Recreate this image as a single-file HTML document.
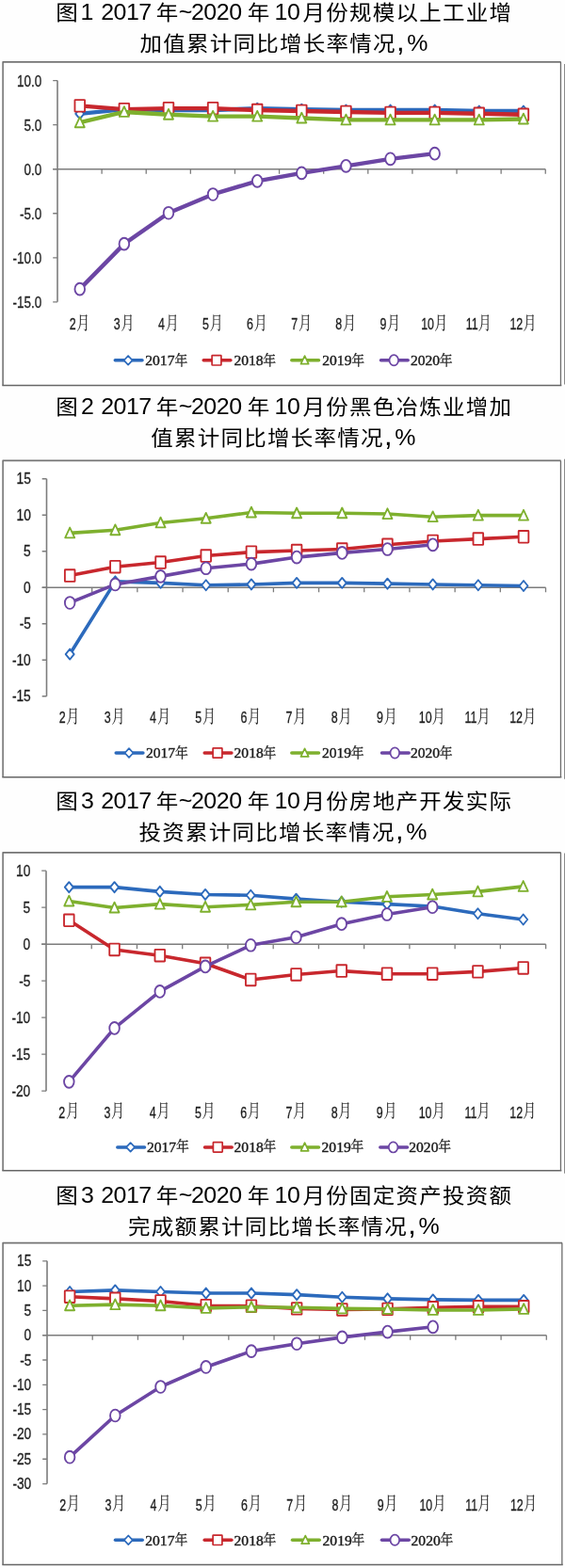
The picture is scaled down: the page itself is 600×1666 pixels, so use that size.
<!DOCTYPE html>
<html lang="zh-CN">
<head>
<meta charset="utf-8">
<title>2017年~2020年10月份累计同比增长率情况</title>
<style>
html,body{margin:0;padding:0;background:#fefefe;}
body{width:600px;height:1666px;overflow:hidden;}
svg{display:block;filter:blur(0.5px);}
text{fill:#1c1c1c;white-space:pre;stroke:#1c1c1c;stroke-width:0.35px;}
.tc{stroke:none;fill:#000;}
.m{stroke-width:0.1px;}
.y{stroke-width:0.3px;}
.n{stroke-width:0.3px;}
.s{stroke-width:0.42px;}
.td{font-family:"Liberation Sans",sans-serif;font-size:24.95px;}
.tk{font-family:"Liberation Sans",sans-serif;font-size:31px;}
.tc{font-family:"Liberation Sans","Noto Sans CJK SC",sans-serif;font-size:23.5px;}
.n{font-family:"Liberation Sans",sans-serif;font-size:16.4px;}
.x{font-family:"Liberation Sans",sans-serif;font-size:16.7px;stroke-width:0.3px;}
.s{font-family:"Liberation Serif",serif;font-size:15.3px;}
.m{font-family:"Liberation Serif","Noto Serif CJK SC",serif;font-size:19.2px;}
.y{font-family:"Liberation Serif","Noto Serif CJK SC",serif;font-size:14.7px;}
</style>
</head>
<body>
<svg width="600" height="1666" viewBox="0 0 600 1666" role="img" aria-label="2017年~2020年10月份累计同比增长率情况">
<rect width="600" height="1666" fill="#fefefe"/>
<g>
<text class="tc" transform="translate(0 20.5) scale(1 0.93)"><tspan x="59.3">图</tspan><tspan class="td" x="85.54">1</tspan> <tspan class="td" x="107.16" letter-spacing="-0.47">2017</tspan><tspan x="165.75">年</tspan><tspan class="td" x="189.72">~</tspan><tspan class="td" x="202.96" letter-spacing="-0.47">2020</tspan><tspan x="262.75">年</tspan><tspan class="td" x="291.52" letter-spacing="-0.47">10</tspan><tspan x="321.45" letter-spacing="1.25">月份规模以上工业增</tspan></text>
<text class="tc" transform="translate(0 53.6) scale(1 0.93)"><tspan x="148.5" letter-spacing="1.25">加值累计同比增长率情况</tspan><tspan class="tk" x="420.89">,</tspan><tspan class="td" x="432.19">%</tspan></text>
<rect x="3.1" y="65.85" width="592.5" height="343.65" fill="#fff"/>
<path d="M3.1 409.5V65.85H595.6" fill="none" stroke="#747474" stroke-width="1.6" stroke-linejoin="round"/>
<path d="M3.1 409.5H595.6" fill="none" stroke="#666" stroke-width="1.5" stroke-linecap="square"/>
<path d="M595.45 65.85V409.5" fill="none" stroke="#6c6c6c" stroke-width="1.3"/>
<line x1="599.7" y1="68" x2="599.7" y2="408.4" stroke="#8c8c8c" stroke-width="1.4"/>
<path d="M61 85.6V320.85" stroke="#7c7c7c" stroke-width="1.6" fill="none"/>
<path d="M56.2 85.6H61M56.2 132.65H61M56.2 179.7H61M56.2 226.75H61M56.2 273.8H61M56.2 320.85H61" stroke="#7c7c7c" stroke-width="1.3" fill="none"/>
<path d="M56.2 179.7H579.25" stroke="#7c7c7c" stroke-width="1.6" fill="none"/>
<path d="M108.11 179.7v5.1M155.23 179.7v5.1M202.34 179.7v5.1M249.45 179.7v5.1M296.57 179.7v5.1M343.68 179.7v5.1M390.8 179.7v5.1M437.91 179.7v5.1M485.02 179.7v5.1M532.14 179.7v5.1M579.25 179.7v5.1" stroke="#7c7c7c" stroke-width="1.3" fill="none"/>
<text class="n" x="18.01" y="91.7" textLength="26.23" lengthAdjust="spacingAndGlyphs">10.0</text>
<text class="n" x="25.41" y="138.75" textLength="18.74" lengthAdjust="spacingAndGlyphs">5.0</text>
<text class="n" x="25.41" y="185.8" textLength="18.74" lengthAdjust="spacingAndGlyphs">0.0</text>
<text class="n" x="21.1" y="232.85" textLength="23.22" lengthAdjust="spacingAndGlyphs">-5.0</text>
<text class="n" x="13.49" y="279.9" textLength="30.71" lengthAdjust="spacingAndGlyphs">-10.0</text>
<text class="n" x="13.49" y="326.95" textLength="30.71" lengthAdjust="spacingAndGlyphs">-15.0</text>
<text class="x" y="350.2"><tspan x="73.65" textLength="6.91" lengthAdjust="spacingAndGlyphs">2</tspan><tspan class="m" x="81.57" dy="-0.7" textLength="13.68" lengthAdjust="spacingAndGlyphs">月</tspan></text>
<text class="x" y="350.2"><tspan x="120.77" textLength="6.91" lengthAdjust="spacingAndGlyphs">3</tspan><tspan class="m" x="128.69" dy="-0.7" textLength="13.68" lengthAdjust="spacingAndGlyphs">月</tspan></text>
<text class="x" y="350.2"><tspan x="167.88" textLength="6.91" lengthAdjust="spacingAndGlyphs">4</tspan><tspan class="m" x="175.99" dy="-0.7" textLength="13.68" lengthAdjust="spacingAndGlyphs">月</tspan></text>
<text class="x" y="350.2"><tspan x="214.99" textLength="6.91" lengthAdjust="spacingAndGlyphs">5</tspan><tspan class="m" x="222.91" dy="-0.7" textLength="13.68" lengthAdjust="spacingAndGlyphs">月</tspan></text>
<text class="x" y="350.2"><tspan x="262.11" textLength="6.91" lengthAdjust="spacingAndGlyphs">6</tspan><tspan class="m" x="270.03" dy="-0.7" textLength="13.68" lengthAdjust="spacingAndGlyphs">月</tspan></text>
<text class="x" y="350.2"><tspan x="309.22" textLength="6.91" lengthAdjust="spacingAndGlyphs">7</tspan><tspan class="m" x="317.14" dy="-0.7" textLength="13.68" lengthAdjust="spacingAndGlyphs">月</tspan></text>
<text class="x" y="350.2"><tspan x="356.33" textLength="6.91" lengthAdjust="spacingAndGlyphs">8</tspan><tspan class="m" x="364.25" dy="-0.7" textLength="13.68" lengthAdjust="spacingAndGlyphs">月</tspan></text>
<text class="x" y="350.2"><tspan x="403.45" textLength="6.91" lengthAdjust="spacingAndGlyphs">9</tspan><tspan class="m" x="411.37" dy="-0.7" textLength="13.68" lengthAdjust="spacingAndGlyphs">月</tspan></text>
<text class="x" y="350.2"><tspan x="447.14" textLength="13.83" lengthAdjust="spacingAndGlyphs">10</tspan><tspan class="m" x="461.53" dy="-0.7" textLength="13.68" lengthAdjust="spacingAndGlyphs">月</tspan></text>
<text class="x" y="350.2"><tspan x="494.81" textLength="12.91" lengthAdjust="spacingAndGlyphs">11</tspan><tspan class="m" x="508.09" dy="-0.7" textLength="13.68" lengthAdjust="spacingAndGlyphs">月</tspan></text>
<text class="x" y="350.2"><tspan x="541.46" textLength="13.83" lengthAdjust="spacingAndGlyphs">12</tspan><tspan class="m" x="555.67" dy="-0.7" textLength="13.68" lengthAdjust="spacingAndGlyphs">月</tspan></text>
<polyline points="84.76,120.82 131.87,116.11 178.98,117.05 226.1,117.05 273.21,115.17 320.32,116.11 367.44,117.05 414.55,117.05 461.67,117.05 508.78,117.99 555.89,117.99" fill="none" stroke="#2C6ABC" stroke-width="4.4" stroke-linejoin="round" stroke-linecap="round"/>
<path d="M84.76 115.32L89.26 120.82L84.76 126.32L80.26 120.82Z" fill="#fff" stroke="#2C6ABC" stroke-width="1.85" stroke-linejoin="round"/>
<path d="M131.87 110.61L136.37 116.11L131.87 121.61L127.37 116.11Z" fill="#fff" stroke="#2C6ABC" stroke-width="1.85" stroke-linejoin="round"/>
<path d="M178.98 111.55L183.48 117.05L178.98 122.55L174.48 117.05Z" fill="#fff" stroke="#2C6ABC" stroke-width="1.85" stroke-linejoin="round"/>
<path d="M226.1 111.55L230.6 117.05L226.1 122.55L221.6 117.05Z" fill="#fff" stroke="#2C6ABC" stroke-width="1.85" stroke-linejoin="round"/>
<path d="M273.21 109.67L277.71 115.17L273.21 120.67L268.71 115.17Z" fill="#fff" stroke="#2C6ABC" stroke-width="1.85" stroke-linejoin="round"/>
<path d="M320.32 110.61L324.82 116.11L320.32 121.61L315.82 116.11Z" fill="#fff" stroke="#2C6ABC" stroke-width="1.85" stroke-linejoin="round"/>
<path d="M367.44 111.55L371.94 117.05L367.44 122.55L362.94 117.05Z" fill="#fff" stroke="#2C6ABC" stroke-width="1.85" stroke-linejoin="round"/>
<path d="M414.55 111.55L419.05 117.05L414.55 122.55L410.05 117.05Z" fill="#fff" stroke="#2C6ABC" stroke-width="1.85" stroke-linejoin="round"/>
<path d="M461.67 111.55L466.17 117.05L461.67 122.55L457.17 117.05Z" fill="#fff" stroke="#2C6ABC" stroke-width="1.85" stroke-linejoin="round"/>
<path d="M508.78 112.49L513.28 117.99L508.78 123.49L504.28 117.99Z" fill="#fff" stroke="#2C6ABC" stroke-width="1.85" stroke-linejoin="round"/>
<path d="M555.89 112.49L560.39 117.99L555.89 123.49L551.39 117.99Z" fill="#fff" stroke="#2C6ABC" stroke-width="1.85" stroke-linejoin="round"/>
<polyline points="84.76,112.35 131.87,116.11 178.98,115.17 226.1,115.17 273.21,117.05 320.32,117.99 367.44,118.94 414.55,119.88 461.67,119.88 508.78,120.82 555.89,121.76" fill="none" stroke="#C8272D" stroke-width="4.4" stroke-linejoin="round" stroke-linecap="round"/>
<rect x="79.46" y="106.05" width="10.6" height="12.6" rx="0.5" fill="#fff" stroke="#C8272D" stroke-width="1.85"/>
<rect x="126.57" y="109.81" width="10.6" height="12.6" rx="0.5" fill="#fff" stroke="#C8272D" stroke-width="1.85"/>
<rect x="173.68" y="108.87" width="10.6" height="12.6" rx="0.5" fill="#fff" stroke="#C8272D" stroke-width="1.85"/>
<rect x="220.8" y="108.87" width="10.6" height="12.6" rx="0.5" fill="#fff" stroke="#C8272D" stroke-width="1.85"/>
<rect x="267.91" y="110.75" width="10.6" height="12.6" rx="0.5" fill="#fff" stroke="#C8272D" stroke-width="1.85"/>
<rect x="315.02" y="111.69" width="10.6" height="12.6" rx="0.5" fill="#fff" stroke="#C8272D" stroke-width="1.85"/>
<rect x="362.14" y="112.64" width="10.6" height="12.6" rx="0.5" fill="#fff" stroke="#C8272D" stroke-width="1.85"/>
<rect x="409.25" y="113.58" width="10.6" height="12.6" rx="0.5" fill="#fff" stroke="#C8272D" stroke-width="1.85"/>
<rect x="456.37" y="113.58" width="10.6" height="12.6" rx="0.5" fill="#fff" stroke="#C8272D" stroke-width="1.85"/>
<rect x="503.48" y="114.52" width="10.6" height="12.6" rx="0.5" fill="#fff" stroke="#C8272D" stroke-width="1.85"/>
<rect x="550.59" y="115.46" width="10.6" height="12.6" rx="0.5" fill="#fff" stroke="#C8272D" stroke-width="1.85"/>
<polyline points="84.76,130.23 131.87,118.94 178.98,121.76 226.1,123.64 273.21,123.64 320.32,125.52 367.44,127.4 414.55,127.4 461.67,127.4 508.78,127.4 555.89,126.46" fill="none" stroke="#7EB02E" stroke-width="4.4" stroke-linejoin="round" stroke-linecap="round"/>
<path d="M84.76 124.43L89.76 135.23L79.76 135.23Z" fill="#fff" stroke="#7EB02E" stroke-width="1.85" stroke-linejoin="round"/>
<path d="M131.87 113.13L136.87 123.94L126.87 123.94Z" fill="#fff" stroke="#7EB02E" stroke-width="1.85" stroke-linejoin="round"/>
<path d="M178.98 115.96L183.98 126.76L173.98 126.76Z" fill="#fff" stroke="#7EB02E" stroke-width="1.85" stroke-linejoin="round"/>
<path d="M226.1 117.84L231.1 128.64L221.1 128.64Z" fill="#fff" stroke="#7EB02E" stroke-width="1.85" stroke-linejoin="round"/>
<path d="M273.21 117.84L278.21 128.64L268.21 128.64Z" fill="#fff" stroke="#7EB02E" stroke-width="1.85" stroke-linejoin="round"/>
<path d="M320.32 119.72L325.32 130.52L315.32 130.52Z" fill="#fff" stroke="#7EB02E" stroke-width="1.85" stroke-linejoin="round"/>
<path d="M367.44 121.6L372.44 132.4L362.44 132.4Z" fill="#fff" stroke="#7EB02E" stroke-width="1.85" stroke-linejoin="round"/>
<path d="M414.55 121.6L419.55 132.4L409.55 132.4Z" fill="#fff" stroke="#7EB02E" stroke-width="1.85" stroke-linejoin="round"/>
<path d="M461.67 121.6L466.67 132.4L456.67 132.4Z" fill="#fff" stroke="#7EB02E" stroke-width="1.85" stroke-linejoin="round"/>
<path d="M508.78 121.6L513.78 132.4L503.78 132.4Z" fill="#fff" stroke="#7EB02E" stroke-width="1.85" stroke-linejoin="round"/>
<path d="M555.89 120.66L560.89 131.46L550.89 131.46Z" fill="#fff" stroke="#7EB02E" stroke-width="1.85" stroke-linejoin="round"/>
<polyline points="84.76,307.13 131.87,259.14 178.98,226.21 226.1,206.45 273.21,192.33 320.32,183.86 367.44,176.34 414.55,168.81 461.67,163.16" fill="none" stroke="#6C46A4" stroke-width="4.4" stroke-linejoin="round" stroke-linecap="round"/>
<ellipse cx="84.76" cy="307.13" rx="5.3" ry="6.4" fill="#fff" stroke="#6C46A4" stroke-width="1.85"/>
<ellipse cx="131.87" cy="259.14" rx="5.3" ry="6.4" fill="#fff" stroke="#6C46A4" stroke-width="1.85"/>
<ellipse cx="178.98" cy="226.21" rx="5.3" ry="6.4" fill="#fff" stroke="#6C46A4" stroke-width="1.85"/>
<ellipse cx="226.1" cy="206.45" rx="5.3" ry="6.4" fill="#fff" stroke="#6C46A4" stroke-width="1.85"/>
<ellipse cx="273.21" cy="192.33" rx="5.3" ry="6.4" fill="#fff" stroke="#6C46A4" stroke-width="1.85"/>
<ellipse cx="320.32" cy="183.86" rx="5.3" ry="6.4" fill="#fff" stroke="#6C46A4" stroke-width="1.85"/>
<ellipse cx="367.44" cy="176.34" rx="5.3" ry="6.4" fill="#fff" stroke="#6C46A4" stroke-width="1.85"/>
<ellipse cx="414.55" cy="168.81" rx="5.3" ry="6.4" fill="#fff" stroke="#6C46A4" stroke-width="1.85"/>
<ellipse cx="461.67" cy="163.16" rx="5.3" ry="6.4" fill="#fff" stroke="#6C46A4" stroke-width="1.85"/>
<line x1="122.3" y1="382.8" x2="151" y2="382.8" stroke="#2C6ABC" stroke-width="3.5" stroke-linecap="round"/>
<path d="M136.1 378L140.6 382.8L136.1 387.6L131.6 382.8Z" fill="#fff" stroke="#2C6ABC" stroke-width="1.7" stroke-linejoin="round"/>
<text class="s" y="388.4"><tspan x="154.24" textLength="31.21" lengthAdjust="spacingAndGlyphs">2017</tspan><tspan class="y" x="185.38" dy="-0.5" textLength="13.82" lengthAdjust="spacingAndGlyphs">年</tspan></text>
<line x1="216.2" y1="382.8" x2="244.9" y2="382.8" stroke="#C8272D" stroke-width="3.5" stroke-linecap="round"/>
<rect x="225.1" y="377.6" width="9.8" height="10.4" rx="0.5" fill="#fff" stroke="#C8272D" stroke-width="1.7"/>
<text class="s" y="388.4"><tspan x="248.44" textLength="31.21" lengthAdjust="spacingAndGlyphs">2018</tspan><tspan class="y" x="279.33" dy="-0.5" textLength="13.82" lengthAdjust="spacingAndGlyphs">年</tspan></text>
<line x1="309.8" y1="382.8" x2="338.5" y2="382.8" stroke="#7EB02E" stroke-width="3.5" stroke-linecap="round"/>
<path d="M323.6 378.1L327.7 386.7L319.5 386.7Z" fill="#fff" stroke="#7EB02E" stroke-width="1.7" stroke-linejoin="round"/>
<text class="s" y="388.4"><tspan x="342.24" textLength="31.21" lengthAdjust="spacingAndGlyphs">2019</tspan><tspan class="y" x="373.13" dy="-0.5" textLength="13.82" lengthAdjust="spacingAndGlyphs">年</tspan></text>
<line x1="404.5" y1="382.8" x2="433.2" y2="382.8" stroke="#6C46A4" stroke-width="3.5" stroke-linecap="round"/>
<ellipse cx="418.3" cy="382.8" rx="4.8" ry="5.6" fill="#fff" stroke="#6C46A4" stroke-width="1.7"/>
<text class="s" y="388.4"><tspan x="435.94" textLength="31.21" lengthAdjust="spacingAndGlyphs">2020</tspan><tspan class="y" x="466.83" dy="-0.5" textLength="13.82" lengthAdjust="spacingAndGlyphs">年</tspan></text>
</g>
<g>
<text class="tc" transform="translate(0 439.5) scale(1 0.93)"><tspan x="59.3">图</tspan><tspan class="td" x="85.91">2</tspan> <tspan class="td" x="107.16" letter-spacing="-0.47">2017</tspan><tspan x="165.75">年</tspan><tspan class="td" x="189.72">~</tspan><tspan class="td" x="202.96" letter-spacing="-0.47">2020</tspan><tspan x="262.75">年</tspan><tspan class="td" x="291.52" letter-spacing="-0.47">10</tspan><tspan x="321.45" letter-spacing="1.25">月份黑色冶炼业增加</tspan></text>
<text class="tc" transform="translate(0 472.7) scale(1 0.93)"><tspan x="160.25" letter-spacing="1.25">值累计同比增长率情况</tspan><tspan class="tk" x="407.89">,</tspan><tspan class="td" x="419.19">%</tspan></text>
<rect x="3.1" y="489.4" width="592.5" height="336.4" fill="#fff"/>
<path d="M3.1 825.8V489.4H595.6" fill="none" stroke="#747474" stroke-width="1.6" stroke-linejoin="round"/>
<path d="M3.1 825.8H595.6" fill="none" stroke="#666" stroke-width="1.5" stroke-linecap="square"/>
<path d="M595.45 489.4V825.8" fill="none" stroke="#6c6c6c" stroke-width="1.3"/>
<line x1="599.7" y1="487.7" x2="599.7" y2="827.7" stroke="#8c8c8c" stroke-width="1.4"/>
<path d="M49.5 508.75V739.75" stroke="#7c7c7c" stroke-width="1.6" fill="none"/>
<path d="M44.7 508.75H49.5M44.7 547.25H49.5M44.7 585.75H49.5M44.7 624.25H49.5M44.7 662.75H49.5M44.7 701.25H49.5M44.7 739.75H49.5" stroke="#7c7c7c" stroke-width="1.3" fill="none"/>
<path d="M44.7 624.25H579.5" stroke="#7c7c7c" stroke-width="1.6" fill="none"/>
<path d="M97.68 624.25v5.1M145.86 624.25v5.1M194.05 624.25v5.1M242.23 624.25v5.1M290.41 624.25v5.1M338.59 624.25v5.1M386.77 624.25v5.1M434.95 624.25v5.1M483.14 624.25v5.1M531.32 624.25v5.1M579.5 624.25v5.1" stroke="#7c7c7c" stroke-width="1.3" fill="none"/>
<text class="n" x="17.5" y="514.25" textLength="15.32" lengthAdjust="spacingAndGlyphs">15</text>
<text class="n" x="17.5" y="552.75" textLength="15.32" lengthAdjust="spacingAndGlyphs">10</text>
<text class="n" x="25.06" y="591.25" textLength="7.67" lengthAdjust="spacingAndGlyphs">5</text>
<text class="n" x="25.06" y="629.75" textLength="7.67" lengthAdjust="spacingAndGlyphs">0</text>
<text class="n" x="20.65" y="668.25" textLength="12.25" lengthAdjust="spacingAndGlyphs">-5</text>
<text class="n" x="12.88" y="706.75" textLength="19.91" lengthAdjust="spacingAndGlyphs">-10</text>
<text class="n" x="12.88" y="745.25" textLength="19.91" lengthAdjust="spacingAndGlyphs">-15</text>
<text class="x" y="768.2"><tspan x="62.69" textLength="6.91" lengthAdjust="spacingAndGlyphs">2</tspan><tspan class="m" x="70.61" dy="-0.7" textLength="13.68" lengthAdjust="spacingAndGlyphs">月</tspan></text>
<text class="x" y="768.2"><tspan x="110.87" textLength="6.91" lengthAdjust="spacingAndGlyphs">3</tspan><tspan class="m" x="118.79" dy="-0.7" textLength="13.68" lengthAdjust="spacingAndGlyphs">月</tspan></text>
<text class="x" y="768.2"><tspan x="159.05" textLength="6.91" lengthAdjust="spacingAndGlyphs">4</tspan><tspan class="m" x="167.16" dy="-0.7" textLength="13.68" lengthAdjust="spacingAndGlyphs">月</tspan></text>
<text class="x" y="768.2"><tspan x="207.23" textLength="6.91" lengthAdjust="spacingAndGlyphs">5</tspan><tspan class="m" x="215.15" dy="-0.7" textLength="13.68" lengthAdjust="spacingAndGlyphs">月</tspan></text>
<text class="x" y="768.2"><tspan x="255.41" textLength="6.91" lengthAdjust="spacingAndGlyphs">6</tspan><tspan class="m" x="263.33" dy="-0.7" textLength="13.68" lengthAdjust="spacingAndGlyphs">月</tspan></text>
<text class="x" y="768.2"><tspan x="303.6" textLength="6.91" lengthAdjust="spacingAndGlyphs">7</tspan><tspan class="m" x="311.52" dy="-0.7" textLength="13.68" lengthAdjust="spacingAndGlyphs">月</tspan></text>
<text class="x" y="768.2"><tspan x="351.78" textLength="6.91" lengthAdjust="spacingAndGlyphs">8</tspan><tspan class="m" x="359.7" dy="-0.7" textLength="13.68" lengthAdjust="spacingAndGlyphs">月</tspan></text>
<text class="x" y="768.2"><tspan x="399.96" textLength="6.91" lengthAdjust="spacingAndGlyphs">9</tspan><tspan class="m" x="407.88" dy="-0.7" textLength="13.68" lengthAdjust="spacingAndGlyphs">月</tspan></text>
<text class="x" y="768.2"><tspan x="444.72" textLength="13.83" lengthAdjust="spacingAndGlyphs">10</tspan><tspan class="m" x="459.11" dy="-0.7" textLength="13.68" lengthAdjust="spacingAndGlyphs">月</tspan></text>
<text class="x" y="768.2"><tspan x="493.46" textLength="12.91" lengthAdjust="spacingAndGlyphs">11</tspan><tspan class="m" x="506.74" dy="-0.7" textLength="13.68" lengthAdjust="spacingAndGlyphs">月</tspan></text>
<text class="x" y="768.2"><tspan x="541.17" textLength="13.83" lengthAdjust="spacingAndGlyphs">12</tspan><tspan class="m" x="555.38" dy="-0.7" textLength="13.68" lengthAdjust="spacingAndGlyphs">月</tspan></text>
<polyline points="74.19,695.05 122.37,617.83 170.55,619.39 218.74,621.73 266.92,620.95 315.1,619.39 363.28,619.39 411.46,620.17 459.65,620.95 507.83,621.73 556.01,622.51" fill="none" stroke="#2C6ABC" stroke-width="3.6" stroke-linejoin="round" stroke-linecap="round"/>
<path d="M74.19 689.55L78.69 695.05L74.19 700.55L69.69 695.05Z" fill="#fff" stroke="#2C6ABC" stroke-width="1.85" stroke-linejoin="round"/>
<path d="M122.37 612.33L126.87 617.83L122.37 623.33L117.87 617.83Z" fill="#fff" stroke="#2C6ABC" stroke-width="1.85" stroke-linejoin="round"/>
<path d="M170.55 613.89L175.05 619.39L170.55 624.89L166.05 619.39Z" fill="#fff" stroke="#2C6ABC" stroke-width="1.85" stroke-linejoin="round"/>
<path d="M218.74 616.23L223.24 621.73L218.74 627.23L214.24 621.73Z" fill="#fff" stroke="#2C6ABC" stroke-width="1.85" stroke-linejoin="round"/>
<path d="M266.92 615.45L271.42 620.95L266.92 626.45L262.42 620.95Z" fill="#fff" stroke="#2C6ABC" stroke-width="1.85" stroke-linejoin="round"/>
<path d="M315.1 613.89L319.6 619.39L315.1 624.89L310.6 619.39Z" fill="#fff" stroke="#2C6ABC" stroke-width="1.85" stroke-linejoin="round"/>
<path d="M363.28 613.89L367.78 619.39L363.28 624.89L358.78 619.39Z" fill="#fff" stroke="#2C6ABC" stroke-width="1.85" stroke-linejoin="round"/>
<path d="M411.46 614.67L415.96 620.17L411.46 625.67L406.96 620.17Z" fill="#fff" stroke="#2C6ABC" stroke-width="1.85" stroke-linejoin="round"/>
<path d="M459.65 615.45L464.15 620.95L459.65 626.45L455.15 620.95Z" fill="#fff" stroke="#2C6ABC" stroke-width="1.85" stroke-linejoin="round"/>
<path d="M507.83 616.23L512.33 621.73L507.83 627.23L503.33 621.73Z" fill="#fff" stroke="#2C6ABC" stroke-width="1.85" stroke-linejoin="round"/>
<path d="M556.01 617.01L560.51 622.51L556.01 628.01L551.51 622.51Z" fill="#fff" stroke="#2C6ABC" stroke-width="1.85" stroke-linejoin="round"/>
<polyline points="74.19,611.59 122.37,602.23 170.55,597.55 218.74,590.53 266.92,586.63 315.1,585.07 363.28,583.51 411.46,578.83 459.65,574.93 507.83,572.59 556.01,570.25" fill="none" stroke="#C8272D" stroke-width="3.6" stroke-linejoin="round" stroke-linecap="round"/>
<rect x="68.89" y="605.29" width="10.6" height="12.6" rx="0.5" fill="#fff" stroke="#C8272D" stroke-width="1.85"/>
<rect x="117.07" y="595.93" width="10.6" height="12.6" rx="0.5" fill="#fff" stroke="#C8272D" stroke-width="1.85"/>
<rect x="165.25" y="591.25" width="10.6" height="12.6" rx="0.5" fill="#fff" stroke="#C8272D" stroke-width="1.85"/>
<rect x="213.44" y="584.23" width="10.6" height="12.6" rx="0.5" fill="#fff" stroke="#C8272D" stroke-width="1.85"/>
<rect x="261.62" y="580.33" width="10.6" height="12.6" rx="0.5" fill="#fff" stroke="#C8272D" stroke-width="1.85"/>
<rect x="309.8" y="578.77" width="10.6" height="12.6" rx="0.5" fill="#fff" stroke="#C8272D" stroke-width="1.85"/>
<rect x="357.98" y="577.21" width="10.6" height="12.6" rx="0.5" fill="#fff" stroke="#C8272D" stroke-width="1.85"/>
<rect x="406.16" y="572.53" width="10.6" height="12.6" rx="0.5" fill="#fff" stroke="#C8272D" stroke-width="1.85"/>
<rect x="454.35" y="568.63" width="10.6" height="12.6" rx="0.5" fill="#fff" stroke="#C8272D" stroke-width="1.85"/>
<rect x="502.53" y="566.29" width="10.6" height="12.6" rx="0.5" fill="#fff" stroke="#C8272D" stroke-width="1.85"/>
<rect x="550.71" y="563.95" width="10.6" height="12.6" rx="0.5" fill="#fff" stroke="#C8272D" stroke-width="1.85"/>
<polyline points="74.19,566.35 122.37,563.23 170.55,555.43 218.74,550.75 266.92,544.51 315.1,545.29 363.28,545.29 411.46,546.07 459.65,549.19 507.83,547.63 556.01,547.63" fill="none" stroke="#7EB02E" stroke-width="3.6" stroke-linejoin="round" stroke-linecap="round"/>
<path d="M74.19 560.55L79.19 571.35L69.19 571.35Z" fill="#fff" stroke="#7EB02E" stroke-width="1.85" stroke-linejoin="round"/>
<path d="M122.37 557.43L127.37 568.23L117.37 568.23Z" fill="#fff" stroke="#7EB02E" stroke-width="1.85" stroke-linejoin="round"/>
<path d="M170.55 549.63L175.55 560.43L165.55 560.43Z" fill="#fff" stroke="#7EB02E" stroke-width="1.85" stroke-linejoin="round"/>
<path d="M218.74 544.95L223.74 555.75L213.74 555.75Z" fill="#fff" stroke="#7EB02E" stroke-width="1.85" stroke-linejoin="round"/>
<path d="M266.92 538.71L271.92 549.51L261.92 549.51Z" fill="#fff" stroke="#7EB02E" stroke-width="1.85" stroke-linejoin="round"/>
<path d="M315.1 539.49L320.1 550.29L310.1 550.29Z" fill="#fff" stroke="#7EB02E" stroke-width="1.85" stroke-linejoin="round"/>
<path d="M363.28 539.49L368.28 550.29L358.28 550.29Z" fill="#fff" stroke="#7EB02E" stroke-width="1.85" stroke-linejoin="round"/>
<path d="M411.46 540.27L416.46 551.07L406.46 551.07Z" fill="#fff" stroke="#7EB02E" stroke-width="1.85" stroke-linejoin="round"/>
<path d="M459.65 543.39L464.65 554.19L454.65 554.19Z" fill="#fff" stroke="#7EB02E" stroke-width="1.85" stroke-linejoin="round"/>
<path d="M507.83 541.83L512.83 552.63L502.83 552.63Z" fill="#fff" stroke="#7EB02E" stroke-width="1.85" stroke-linejoin="round"/>
<path d="M556.01 541.83L561.01 552.63L551.01 552.63Z" fill="#fff" stroke="#7EB02E" stroke-width="1.85" stroke-linejoin="round"/>
<polyline points="74.19,640.45 122.37,620.95 170.55,612.37 218.74,603.79 266.92,599.11 315.1,592.09 363.28,587.41 411.46,583.51 459.65,578.83" fill="none" stroke="#6C46A4" stroke-width="3.6" stroke-linejoin="round" stroke-linecap="round"/>
<ellipse cx="74.19" cy="640.45" rx="5.3" ry="6.4" fill="#fff" stroke="#6C46A4" stroke-width="1.85"/>
<ellipse cx="122.37" cy="620.95" rx="5.3" ry="6.4" fill="#fff" stroke="#6C46A4" stroke-width="1.85"/>
<ellipse cx="170.55" cy="612.37" rx="5.3" ry="6.4" fill="#fff" stroke="#6C46A4" stroke-width="1.85"/>
<ellipse cx="218.74" cy="603.79" rx="5.3" ry="6.4" fill="#fff" stroke="#6C46A4" stroke-width="1.85"/>
<ellipse cx="266.92" cy="599.11" rx="5.3" ry="6.4" fill="#fff" stroke="#6C46A4" stroke-width="1.85"/>
<ellipse cx="315.1" cy="592.09" rx="5.3" ry="6.4" fill="#fff" stroke="#6C46A4" stroke-width="1.85"/>
<ellipse cx="363.28" cy="587.41" rx="5.3" ry="6.4" fill="#fff" stroke="#6C46A4" stroke-width="1.85"/>
<ellipse cx="411.46" cy="583.51" rx="5.3" ry="6.4" fill="#fff" stroke="#6C46A4" stroke-width="1.85"/>
<ellipse cx="459.65" cy="578.83" rx="5.3" ry="6.4" fill="#fff" stroke="#6C46A4" stroke-width="1.85"/>
<line x1="123.2" y1="800" x2="151.9" y2="800" stroke="#2C6ABC" stroke-width="3.5" stroke-linecap="round"/>
<path d="M137 795.2L141.5 800L137 804.8L132.5 800Z" fill="#fff" stroke="#2C6ABC" stroke-width="1.7" stroke-linejoin="round"/>
<text class="s" y="805.4"><tspan x="154.94" textLength="31.21" lengthAdjust="spacingAndGlyphs">2017</tspan><tspan class="y" x="186.08" dy="-0.5" textLength="13.82" lengthAdjust="spacingAndGlyphs">年</tspan></text>
<line x1="217.2" y1="800" x2="245.9" y2="800" stroke="#C8272D" stroke-width="3.5" stroke-linecap="round"/>
<rect x="226.1" y="794.8" width="9.8" height="10.4" rx="0.5" fill="#fff" stroke="#C8272D" stroke-width="1.7"/>
<text class="s" y="805.4"><tspan x="248.54" textLength="31.21" lengthAdjust="spacingAndGlyphs">2018</tspan><tspan class="y" x="279.43" dy="-0.5" textLength="13.82" lengthAdjust="spacingAndGlyphs">年</tspan></text>
<line x1="309.8" y1="800" x2="338.5" y2="800" stroke="#7EB02E" stroke-width="3.5" stroke-linecap="round"/>
<path d="M323.6 795.3L327.7 803.9L319.5 803.9Z" fill="#fff" stroke="#7EB02E" stroke-width="1.7" stroke-linejoin="round"/>
<text class="s" y="805.4"><tspan x="341.94" textLength="31.21" lengthAdjust="spacingAndGlyphs">2019</tspan><tspan class="y" x="372.83" dy="-0.5" textLength="13.82" lengthAdjust="spacingAndGlyphs">年</tspan></text>
<line x1="405.5" y1="800" x2="434.2" y2="800" stroke="#6C46A4" stroke-width="3.5" stroke-linecap="round"/>
<ellipse cx="419.3" cy="800" rx="4.8" ry="5.6" fill="#fff" stroke="#6C46A4" stroke-width="1.7"/>
<text class="s" y="805.4"><tspan x="435.94" textLength="31.21" lengthAdjust="spacingAndGlyphs">2020</tspan><tspan class="y" x="466.83" dy="-0.5" textLength="13.82" lengthAdjust="spacingAndGlyphs">年</tspan></text>
</g>
<g>
<text class="tc" transform="translate(0 858.9) scale(1 0.93)"><tspan x="59.3">图</tspan><tspan class="td" x="86.05">3</tspan> <tspan class="td" x="107.16" letter-spacing="-0.47">2017</tspan><tspan x="165.75">年</tspan><tspan class="td" x="189.72">~</tspan><tspan class="td" x="202.96" letter-spacing="-0.47">2020</tspan><tspan x="262.75">年</tspan><tspan class="td" x="291.52" letter-spacing="-0.47">10</tspan><tspan x="321.45" letter-spacing="1.25">月份房地产开发实际</tspan></text>
<text class="tc" transform="translate(0 892.1) scale(1 0.93)"><tspan x="147.5" letter-spacing="1.25">投资累计同比增长率情况</tspan><tspan class="tk" x="419.89">,</tspan><tspan class="td" x="431.19">%</tspan></text>
<rect x="3.1" y="905.85" width="592.5" height="337.95" fill="#fff"/>
<path d="M3.1 1243.8V905.85H595.6" fill="none" stroke="#747474" stroke-width="1.6" stroke-linejoin="round"/>
<path d="M3.1 1243.8H595.6" fill="none" stroke="#666" stroke-width="1.5" stroke-linecap="square"/>
<path d="M595.45 905.85V1243.8" fill="none" stroke="#6c6c6c" stroke-width="1.3"/>
<line x1="599.7" y1="906.4" x2="599.7" y2="1246.7" stroke="#8c8c8c" stroke-width="1.4"/>
<path d="M49 925.2V1159.2" stroke="#7c7c7c" stroke-width="1.6" fill="none"/>
<path d="M44.2 925.2H49M44.2 964.2H49M44.2 1003.2H49M44.2 1042.2H49M44.2 1081.2H49M44.2 1120.2H49M44.2 1159.2H49" stroke="#7c7c7c" stroke-width="1.3" fill="none"/>
<path d="M44.2 1003.2H579.6" stroke="#7c7c7c" stroke-width="1.6" fill="none"/>
<path d="M97.24 1003.2v5.1M145.47 1003.2v5.1M193.71 1003.2v5.1M241.95 1003.2v5.1M290.18 1003.2v5.1M338.42 1003.2v5.1M386.65 1003.2v5.1M434.89 1003.2v5.1M483.13 1003.2v5.1M531.36 1003.2v5.1M579.6 1003.2v5.1" stroke="#7c7c7c" stroke-width="1.3" fill="none"/>
<text class="n" x="17" y="930.7" textLength="15.32" lengthAdjust="spacingAndGlyphs">10</text>
<text class="n" x="24.56" y="969.7" textLength="7.67" lengthAdjust="spacingAndGlyphs">5</text>
<text class="n" x="24.56" y="1008.7" textLength="7.67" lengthAdjust="spacingAndGlyphs">0</text>
<text class="n" x="20.15" y="1047.7" textLength="12.25" lengthAdjust="spacingAndGlyphs">-5</text>
<text class="n" x="12.38" y="1086.7" textLength="19.91" lengthAdjust="spacingAndGlyphs">-10</text>
<text class="n" x="12.38" y="1125.7" textLength="19.91" lengthAdjust="spacingAndGlyphs">-15</text>
<text class="n" x="12.38" y="1164.7" textLength="19.91" lengthAdjust="spacingAndGlyphs">-20</text>
<text class="x" y="1187.5"><tspan x="62.21" textLength="6.91" lengthAdjust="spacingAndGlyphs">2</tspan><tspan class="m" x="70.13" dy="-0.7" textLength="13.68" lengthAdjust="spacingAndGlyphs">月</tspan></text>
<text class="x" y="1187.5"><tspan x="110.45" textLength="6.91" lengthAdjust="spacingAndGlyphs">3</tspan><tspan class="m" x="118.37" dy="-0.7" textLength="13.68" lengthAdjust="spacingAndGlyphs">月</tspan></text>
<text class="x" y="1187.5"><tspan x="158.69" textLength="6.91" lengthAdjust="spacingAndGlyphs">4</tspan><tspan class="m" x="166.79" dy="-0.7" textLength="13.68" lengthAdjust="spacingAndGlyphs">月</tspan></text>
<text class="x" y="1187.5"><tspan x="206.92" textLength="6.91" lengthAdjust="spacingAndGlyphs">5</tspan><tspan class="m" x="214.84" dy="-0.7" textLength="13.68" lengthAdjust="spacingAndGlyphs">月</tspan></text>
<text class="x" y="1187.5"><tspan x="255.16" textLength="6.91" lengthAdjust="spacingAndGlyphs">6</tspan><tspan class="m" x="263.08" dy="-0.7" textLength="13.68" lengthAdjust="spacingAndGlyphs">月</tspan></text>
<text class="x" y="1187.5"><tspan x="303.4" textLength="6.91" lengthAdjust="spacingAndGlyphs">7</tspan><tspan class="m" x="311.32" dy="-0.7" textLength="13.68" lengthAdjust="spacingAndGlyphs">月</tspan></text>
<text class="x" y="1187.5"><tspan x="351.63" textLength="6.91" lengthAdjust="spacingAndGlyphs">8</tspan><tspan class="m" x="359.55" dy="-0.7" textLength="13.68" lengthAdjust="spacingAndGlyphs">月</tspan></text>
<text class="x" y="1187.5"><tspan x="399.87" textLength="6.91" lengthAdjust="spacingAndGlyphs">9</tspan><tspan class="m" x="407.79" dy="-0.7" textLength="13.68" lengthAdjust="spacingAndGlyphs">月</tspan></text>
<text class="x" y="1187.5"><tspan x="444.68" textLength="13.83" lengthAdjust="spacingAndGlyphs">10</tspan><tspan class="m" x="459.08" dy="-0.7" textLength="13.68" lengthAdjust="spacingAndGlyphs">月</tspan></text>
<text class="x" y="1187.5"><tspan x="493.48" textLength="12.91" lengthAdjust="spacingAndGlyphs">11</tspan><tspan class="m" x="506.75" dy="-0.7" textLength="13.68" lengthAdjust="spacingAndGlyphs">月</tspan></text>
<text class="x" y="1187.5"><tspan x="541.25" textLength="13.83" lengthAdjust="spacingAndGlyphs">12</tspan><tspan class="m" x="555.46" dy="-0.7" textLength="13.68" lengthAdjust="spacingAndGlyphs">月</tspan></text>
<polyline points="73.32,942.66 121.55,942.66 169.79,947.34 218.03,950.46 266.26,951.24 314.5,955.14 362.74,958.26 410.97,960.6 459.21,962.94 507.45,970.74 555.68,976.98" fill="none" stroke="#2C6ABC" stroke-width="3.6" stroke-linejoin="round" stroke-linecap="round"/>
<path d="M73.32 937.16L77.82 942.66L73.32 948.16L68.82 942.66Z" fill="#fff" stroke="#2C6ABC" stroke-width="1.85" stroke-linejoin="round"/>
<path d="M121.55 937.16L126.05 942.66L121.55 948.16L117.05 942.66Z" fill="#fff" stroke="#2C6ABC" stroke-width="1.85" stroke-linejoin="round"/>
<path d="M169.79 941.84L174.29 947.34L169.79 952.84L165.29 947.34Z" fill="#fff" stroke="#2C6ABC" stroke-width="1.85" stroke-linejoin="round"/>
<path d="M218.03 944.96L222.53 950.46L218.03 955.96L213.53 950.46Z" fill="#fff" stroke="#2C6ABC" stroke-width="1.85" stroke-linejoin="round"/>
<path d="M266.26 945.74L270.76 951.24L266.26 956.74L261.76 951.24Z" fill="#fff" stroke="#2C6ABC" stroke-width="1.85" stroke-linejoin="round"/>
<path d="M314.5 949.64L319 955.14L314.5 960.64L310 955.14Z" fill="#fff" stroke="#2C6ABC" stroke-width="1.85" stroke-linejoin="round"/>
<path d="M362.74 952.76L367.24 958.26L362.74 963.76L358.24 958.26Z" fill="#fff" stroke="#2C6ABC" stroke-width="1.85" stroke-linejoin="round"/>
<path d="M410.97 955.1L415.47 960.6L410.97 966.1L406.47 960.6Z" fill="#fff" stroke="#2C6ABC" stroke-width="1.85" stroke-linejoin="round"/>
<path d="M459.21 957.44L463.71 962.94L459.21 968.44L454.71 962.94Z" fill="#fff" stroke="#2C6ABC" stroke-width="1.85" stroke-linejoin="round"/>
<path d="M507.45 965.24L511.95 970.74L507.45 976.24L502.95 970.74Z" fill="#fff" stroke="#2C6ABC" stroke-width="1.85" stroke-linejoin="round"/>
<path d="M555.68 971.48L560.18 976.98L555.68 982.48L551.18 976.98Z" fill="#fff" stroke="#2C6ABC" stroke-width="1.85" stroke-linejoin="round"/>
<polyline points="73.32,977.76 121.55,1008.96 169.79,1015.2 218.03,1023.78 266.26,1040.94 314.5,1035.48 362.74,1031.58 410.97,1034.7 459.21,1034.7 507.45,1032.36 555.68,1028.46" fill="none" stroke="#C8272D" stroke-width="3.6" stroke-linejoin="round" stroke-linecap="round"/>
<rect x="68.02" y="971.46" width="10.6" height="12.6" rx="0.5" fill="#fff" stroke="#C8272D" stroke-width="1.85"/>
<rect x="116.25" y="1002.66" width="10.6" height="12.6" rx="0.5" fill="#fff" stroke="#C8272D" stroke-width="1.85"/>
<rect x="164.49" y="1008.9" width="10.6" height="12.6" rx="0.5" fill="#fff" stroke="#C8272D" stroke-width="1.85"/>
<rect x="212.73" y="1017.48" width="10.6" height="12.6" rx="0.5" fill="#fff" stroke="#C8272D" stroke-width="1.85"/>
<rect x="260.96" y="1034.64" width="10.6" height="12.6" rx="0.5" fill="#fff" stroke="#C8272D" stroke-width="1.85"/>
<rect x="309.2" y="1029.18" width="10.6" height="12.6" rx="0.5" fill="#fff" stroke="#C8272D" stroke-width="1.85"/>
<rect x="357.44" y="1025.28" width="10.6" height="12.6" rx="0.5" fill="#fff" stroke="#C8272D" stroke-width="1.85"/>
<rect x="405.67" y="1028.4" width="10.6" height="12.6" rx="0.5" fill="#fff" stroke="#C8272D" stroke-width="1.85"/>
<rect x="453.91" y="1028.4" width="10.6" height="12.6" rx="0.5" fill="#fff" stroke="#C8272D" stroke-width="1.85"/>
<rect x="502.15" y="1026.06" width="10.6" height="12.6" rx="0.5" fill="#fff" stroke="#C8272D" stroke-width="1.85"/>
<rect x="550.38" y="1022.16" width="10.6" height="12.6" rx="0.5" fill="#fff" stroke="#C8272D" stroke-width="1.85"/>
<polyline points="73.32,957.48 121.55,964.5 169.79,960.6 218.03,963.72 266.26,961.38 314.5,958.26 362.74,958.26 410.97,952.8 459.21,950.46 507.45,947.34 555.68,941.88" fill="none" stroke="#7EB02E" stroke-width="3.6" stroke-linejoin="round" stroke-linecap="round"/>
<path d="M73.32 951.68L78.32 962.48L68.32 962.48Z" fill="#fff" stroke="#7EB02E" stroke-width="1.85" stroke-linejoin="round"/>
<path d="M121.55 958.7L126.55 969.5L116.55 969.5Z" fill="#fff" stroke="#7EB02E" stroke-width="1.85" stroke-linejoin="round"/>
<path d="M169.79 954.8L174.79 965.6L164.79 965.6Z" fill="#fff" stroke="#7EB02E" stroke-width="1.85" stroke-linejoin="round"/>
<path d="M218.03 957.92L223.03 968.72L213.03 968.72Z" fill="#fff" stroke="#7EB02E" stroke-width="1.85" stroke-linejoin="round"/>
<path d="M266.26 955.58L271.26 966.38L261.26 966.38Z" fill="#fff" stroke="#7EB02E" stroke-width="1.85" stroke-linejoin="round"/>
<path d="M314.5 952.46L319.5 963.26L309.5 963.26Z" fill="#fff" stroke="#7EB02E" stroke-width="1.85" stroke-linejoin="round"/>
<path d="M362.74 952.46L367.74 963.26L357.74 963.26Z" fill="#fff" stroke="#7EB02E" stroke-width="1.85" stroke-linejoin="round"/>
<path d="M410.97 947L415.97 957.8L405.97 957.8Z" fill="#fff" stroke="#7EB02E" stroke-width="1.85" stroke-linejoin="round"/>
<path d="M459.21 944.66L464.21 955.46L454.21 955.46Z" fill="#fff" stroke="#7EB02E" stroke-width="1.85" stroke-linejoin="round"/>
<path d="M507.45 941.54L512.45 952.34L502.45 952.34Z" fill="#fff" stroke="#7EB02E" stroke-width="1.85" stroke-linejoin="round"/>
<path d="M555.68 936.08L560.68 946.88L550.68 946.88Z" fill="#fff" stroke="#7EB02E" stroke-width="1.85" stroke-linejoin="round"/>
<polyline points="73.32,1149.36 121.55,1092.42 169.79,1053.42 218.03,1026.9 266.26,1004.28 314.5,995.7 362.74,981.66 410.97,971.52 459.21,963.72" fill="none" stroke="#6C46A4" stroke-width="3.6" stroke-linejoin="round" stroke-linecap="round"/>
<ellipse cx="73.32" cy="1149.36" rx="5.3" ry="6.4" fill="#fff" stroke="#6C46A4" stroke-width="1.85"/>
<ellipse cx="121.55" cy="1092.42" rx="5.3" ry="6.4" fill="#fff" stroke="#6C46A4" stroke-width="1.85"/>
<ellipse cx="169.79" cy="1053.42" rx="5.3" ry="6.4" fill="#fff" stroke="#6C46A4" stroke-width="1.85"/>
<ellipse cx="218.03" cy="1026.9" rx="5.3" ry="6.4" fill="#fff" stroke="#6C46A4" stroke-width="1.85"/>
<ellipse cx="266.26" cy="1004.28" rx="5.3" ry="6.4" fill="#fff" stroke="#6C46A4" stroke-width="1.85"/>
<ellipse cx="314.5" cy="995.7" rx="5.3" ry="6.4" fill="#fff" stroke="#6C46A4" stroke-width="1.85"/>
<ellipse cx="362.74" cy="981.66" rx="5.3" ry="6.4" fill="#fff" stroke="#6C46A4" stroke-width="1.85"/>
<ellipse cx="410.97" cy="971.52" rx="5.3" ry="6.4" fill="#fff" stroke="#6C46A4" stroke-width="1.85"/>
<ellipse cx="459.21" cy="963.72" rx="5.3" ry="6.4" fill="#fff" stroke="#6C46A4" stroke-width="1.85"/>
<line x1="124.8" y1="1218.9" x2="153.5" y2="1218.9" stroke="#2C6ABC" stroke-width="3.5" stroke-linecap="round"/>
<path d="M138.6 1214.1L143.1 1218.9L138.6 1223.7L134.1 1218.9Z" fill="#fff" stroke="#2C6ABC" stroke-width="1.7" stroke-linejoin="round"/>
<text class="s" y="1223.6"><tspan x="155.94" textLength="31.21" lengthAdjust="spacingAndGlyphs">2017</tspan><tspan class="y" x="187.08" dy="-0.5" textLength="13.82" lengthAdjust="spacingAndGlyphs">年</tspan></text>
<line x1="217.5" y1="1218.9" x2="246.2" y2="1218.9" stroke="#C8272D" stroke-width="3.5" stroke-linecap="round"/>
<rect x="226.4" y="1213.7" width="9.8" height="10.4" rx="0.5" fill="#fff" stroke="#C8272D" stroke-width="1.7"/>
<text class="s" y="1223.6"><tspan x="248.54" textLength="31.21" lengthAdjust="spacingAndGlyphs">2018</tspan><tspan class="y" x="279.43" dy="-0.5" textLength="13.82" lengthAdjust="spacingAndGlyphs">年</tspan></text>
<line x1="309.8" y1="1218.9" x2="338.5" y2="1218.9" stroke="#7EB02E" stroke-width="3.5" stroke-linecap="round"/>
<path d="M323.6 1214.2L327.7 1222.8L319.5 1222.8Z" fill="#fff" stroke="#7EB02E" stroke-width="1.7" stroke-linejoin="round"/>
<text class="s" y="1223.6"><tspan x="341.54" textLength="31.21" lengthAdjust="spacingAndGlyphs">2019</tspan><tspan class="y" x="372.43" dy="-0.5" textLength="13.82" lengthAdjust="spacingAndGlyphs">年</tspan></text>
<line x1="403.8" y1="1218.9" x2="432.5" y2="1218.9" stroke="#6C46A4" stroke-width="3.5" stroke-linecap="round"/>
<ellipse cx="417.6" cy="1218.9" rx="4.8" ry="5.6" fill="#fff" stroke="#6C46A4" stroke-width="1.7"/>
<text class="s" y="1223.6"><tspan x="434.24" textLength="31.21" lengthAdjust="spacingAndGlyphs">2020</tspan><tspan class="y" x="465.13" dy="-0.5" textLength="13.82" lengthAdjust="spacingAndGlyphs">年</tspan></text>
</g>
<g>
<text class="tc" transform="translate(0 1277.9) scale(1 0.93)"><tspan x="59.3">图</tspan><tspan class="td" x="86.05">3</tspan> <tspan class="td" x="107.16" letter-spacing="-0.47">2017</tspan><tspan x="165.75">年</tspan><tspan class="td" x="189.72">~</tspan><tspan class="td" x="202.96" letter-spacing="-0.47">2020</tspan><tspan x="262.75">年</tspan><tspan class="td" x="291.52" letter-spacing="-0.47">10</tspan><tspan x="321.45" letter-spacing="1.25">月份固定资产投资额</tspan></text>
<text class="tc" transform="translate(0 1311.1) scale(1 0.93)"><tspan x="136.05" letter-spacing="1.25">完成额累计同比增长率情况</tspan><tspan class="tk" x="433.19">,</tspan><tspan class="td" x="444.49">%</tspan></text>
<rect x="3.1" y="1320.6" width="593.9" height="341.8" fill="#fff"/>
<path d="M3.1 1662.4V1320.6H597" fill="none" stroke="#747474" stroke-width="1.6" stroke-linejoin="round"/>
<path d="M3.1 1662.4H597" fill="none" stroke="#666" stroke-width="1.5" stroke-linecap="square"/>
<path d="M596.85 1320.6V1662.4" fill="none" stroke="#6c6c6c" stroke-width="1.3"/>
<path d="M50 1339.79V1576.53" stroke="#7c7c7c" stroke-width="1.6" fill="none"/>
<path d="M45.2 1339.79H50M45.2 1366.09H50M45.2 1392.39H50M45.2 1418.7H50M45.2 1445.01H50M45.2 1471.31H50M45.2 1497.62H50M45.2 1523.92H50M45.2 1550.23H50M45.2 1576.53H50" stroke="#7c7c7c" stroke-width="1.3" fill="none"/>
<path d="M45.2 1418.7H580.3" stroke="#7c7c7c" stroke-width="1.6" fill="none"/>
<path d="M98.21 1418.7v5.1M146.42 1418.7v5.1M194.63 1418.7v5.1M242.84 1418.7v5.1M291.05 1418.7v5.1M339.25 1418.7v5.1M387.46 1418.7v5.1M435.67 1418.7v5.1M483.88 1418.7v5.1M532.09 1418.7v5.1M580.3 1418.7v5.1" stroke="#7c7c7c" stroke-width="1.3" fill="none"/>
<text class="n" x="18" y="1345.29" textLength="15.32" lengthAdjust="spacingAndGlyphs">15</text>
<text class="n" x="18" y="1371.59" textLength="15.32" lengthAdjust="spacingAndGlyphs">10</text>
<text class="n" x="25.56" y="1397.89" textLength="7.67" lengthAdjust="spacingAndGlyphs">5</text>
<text class="n" x="25.56" y="1424.2" textLength="7.67" lengthAdjust="spacingAndGlyphs">0</text>
<text class="n" x="21.15" y="1450.51" textLength="12.25" lengthAdjust="spacingAndGlyphs">-5</text>
<text class="n" x="13.38" y="1476.81" textLength="19.91" lengthAdjust="spacingAndGlyphs">-10</text>
<text class="n" x="13.38" y="1503.12" textLength="19.91" lengthAdjust="spacingAndGlyphs">-15</text>
<text class="n" x="13.38" y="1529.42" textLength="19.91" lengthAdjust="spacingAndGlyphs">-20</text>
<text class="n" x="13.38" y="1555.73" textLength="19.91" lengthAdjust="spacingAndGlyphs">-25</text>
<text class="n" x="13.38" y="1582.03" textLength="19.91" lengthAdjust="spacingAndGlyphs">-30</text>
<text class="x" y="1605.1"><tspan x="63.2" textLength="6.91" lengthAdjust="spacingAndGlyphs">2</tspan><tspan class="m" x="71.12" dy="-0.7" textLength="13.68" lengthAdjust="spacingAndGlyphs">月</tspan></text>
<text class="x" y="1605.1"><tspan x="111.41" textLength="6.91" lengthAdjust="spacingAndGlyphs">3</tspan><tspan class="m" x="119.33" dy="-0.7" textLength="13.68" lengthAdjust="spacingAndGlyphs">月</tspan></text>
<text class="x" y="1605.1"><tspan x="159.62" textLength="6.91" lengthAdjust="spacingAndGlyphs">4</tspan><tspan class="m" x="167.72" dy="-0.7" textLength="13.68" lengthAdjust="spacingAndGlyphs">月</tspan></text>
<text class="x" y="1605.1"><tspan x="207.83" textLength="6.91" lengthAdjust="spacingAndGlyphs">5</tspan><tspan class="m" x="215.75" dy="-0.7" textLength="13.68" lengthAdjust="spacingAndGlyphs">月</tspan></text>
<text class="x" y="1605.1"><tspan x="256.04" textLength="6.91" lengthAdjust="spacingAndGlyphs">6</tspan><tspan class="m" x="263.96" dy="-0.7" textLength="13.68" lengthAdjust="spacingAndGlyphs">月</tspan></text>
<text class="x" y="1605.1"><tspan x="304.25" textLength="6.91" lengthAdjust="spacingAndGlyphs">7</tspan><tspan class="m" x="312.17" dy="-0.7" textLength="13.68" lengthAdjust="spacingAndGlyphs">月</tspan></text>
<text class="x" y="1605.1"><tspan x="352.46" textLength="6.91" lengthAdjust="spacingAndGlyphs">8</tspan><tspan class="m" x="360.37" dy="-0.7" textLength="13.68" lengthAdjust="spacingAndGlyphs">月</tspan></text>
<text class="x" y="1605.1"><tspan x="400.66" textLength="6.91" lengthAdjust="spacingAndGlyphs">9</tspan><tspan class="m" x="408.58" dy="-0.7" textLength="13.68" lengthAdjust="spacingAndGlyphs">月</tspan></text>
<text class="x" y="1605.1"><tspan x="445.45" textLength="13.83" lengthAdjust="spacingAndGlyphs">10</tspan><tspan class="m" x="459.85" dy="-0.7" textLength="13.68" lengthAdjust="spacingAndGlyphs">月</tspan></text>
<text class="x" y="1605.1"><tspan x="494.22" textLength="12.91" lengthAdjust="spacingAndGlyphs">11</tspan><tspan class="m" x="507.5" dy="-0.7" textLength="13.68" lengthAdjust="spacingAndGlyphs">月</tspan></text>
<text class="x" y="1605.1"><tspan x="541.96" textLength="13.83" lengthAdjust="spacingAndGlyphs">12</tspan><tspan class="m" x="556.17" dy="-0.7" textLength="13.68" lengthAdjust="spacingAndGlyphs">月</tspan></text>
<polyline points="74.1,1372.48 122.31,1370.9 170.52,1372.48 218.73,1374.06 266.94,1374.06 315.15,1375.63 363.36,1378.26 411.57,1379.84 459.78,1380.89 507.99,1381.42 556.2,1381.42" fill="none" stroke="#2C6ABC" stroke-width="3.6" stroke-linejoin="round" stroke-linecap="round"/>
<path d="M74.1 1366.98L78.6 1372.48L74.1 1377.98L69.6 1372.48Z" fill="#fff" stroke="#2C6ABC" stroke-width="1.85" stroke-linejoin="round"/>
<path d="M122.31 1365.4L126.81 1370.9L122.31 1376.4L117.81 1370.9Z" fill="#fff" stroke="#2C6ABC" stroke-width="1.85" stroke-linejoin="round"/>
<path d="M170.52 1366.98L175.02 1372.48L170.52 1377.98L166.02 1372.48Z" fill="#fff" stroke="#2C6ABC" stroke-width="1.85" stroke-linejoin="round"/>
<path d="M218.73 1368.56L223.23 1374.06L218.73 1379.56L214.23 1374.06Z" fill="#fff" stroke="#2C6ABC" stroke-width="1.85" stroke-linejoin="round"/>
<path d="M266.94 1368.56L271.44 1374.06L266.94 1379.56L262.44 1374.06Z" fill="#fff" stroke="#2C6ABC" stroke-width="1.85" stroke-linejoin="round"/>
<path d="M315.15 1370.13L319.65 1375.63L315.15 1381.13L310.65 1375.63Z" fill="#fff" stroke="#2C6ABC" stroke-width="1.85" stroke-linejoin="round"/>
<path d="M363.36 1372.76L367.86 1378.26L363.36 1383.76L358.86 1378.26Z" fill="#fff" stroke="#2C6ABC" stroke-width="1.85" stroke-linejoin="round"/>
<path d="M411.57 1374.34L416.07 1379.84L411.57 1385.34L407.07 1379.84Z" fill="#fff" stroke="#2C6ABC" stroke-width="1.85" stroke-linejoin="round"/>
<path d="M459.78 1375.39L464.28 1380.89L459.78 1386.39L455.28 1380.89Z" fill="#fff" stroke="#2C6ABC" stroke-width="1.85" stroke-linejoin="round"/>
<path d="M507.99 1375.92L512.49 1381.42L507.99 1386.92L503.49 1381.42Z" fill="#fff" stroke="#2C6ABC" stroke-width="1.85" stroke-linejoin="round"/>
<path d="M556.2 1375.92L560.7 1381.42L556.2 1386.92L551.7 1381.42Z" fill="#fff" stroke="#2C6ABC" stroke-width="1.85" stroke-linejoin="round"/>
<polyline points="74.1,1377.74 122.31,1379.84 170.52,1382.47 218.73,1387.21 266.94,1387.73 315.15,1390.36 363.36,1391.42 411.57,1390.89 459.78,1389.31 507.99,1388.26 556.2,1388.26" fill="none" stroke="#C8272D" stroke-width="3.6" stroke-linejoin="round" stroke-linecap="round"/>
<rect x="68.8" y="1371.44" width="10.6" height="12.6" rx="0.5" fill="#fff" stroke="#C8272D" stroke-width="1.85"/>
<rect x="117.01" y="1373.54" width="10.6" height="12.6" rx="0.5" fill="#fff" stroke="#C8272D" stroke-width="1.85"/>
<rect x="165.22" y="1376.17" width="10.6" height="12.6" rx="0.5" fill="#fff" stroke="#C8272D" stroke-width="1.85"/>
<rect x="213.43" y="1380.91" width="10.6" height="12.6" rx="0.5" fill="#fff" stroke="#C8272D" stroke-width="1.85"/>
<rect x="261.64" y="1381.43" width="10.6" height="12.6" rx="0.5" fill="#fff" stroke="#C8272D" stroke-width="1.85"/>
<rect x="309.85" y="1384.06" width="10.6" height="12.6" rx="0.5" fill="#fff" stroke="#C8272D" stroke-width="1.85"/>
<rect x="358.06" y="1385.12" width="10.6" height="12.6" rx="0.5" fill="#fff" stroke="#C8272D" stroke-width="1.85"/>
<rect x="406.27" y="1384.59" width="10.6" height="12.6" rx="0.5" fill="#fff" stroke="#C8272D" stroke-width="1.85"/>
<rect x="454.48" y="1383.01" width="10.6" height="12.6" rx="0.5" fill="#fff" stroke="#C8272D" stroke-width="1.85"/>
<rect x="502.69" y="1381.96" width="10.6" height="12.6" rx="0.5" fill="#fff" stroke="#C8272D" stroke-width="1.85"/>
<rect x="550.9" y="1381.96" width="10.6" height="12.6" rx="0.5" fill="#fff" stroke="#C8272D" stroke-width="1.85"/>
<polyline points="74.1,1387.21 122.31,1386.16 170.52,1387.21 218.73,1389.84 266.94,1388.79 315.15,1389.31 363.36,1390.36 411.57,1390.89 459.78,1391.94 507.99,1391.94 556.2,1390.89" fill="none" stroke="#7EB02E" stroke-width="3.6" stroke-linejoin="round" stroke-linecap="round"/>
<path d="M74.1 1381.41L79.1 1392.21L69.1 1392.21Z" fill="#fff" stroke="#7EB02E" stroke-width="1.85" stroke-linejoin="round"/>
<path d="M122.31 1380.36L127.31 1391.16L117.31 1391.16Z" fill="#fff" stroke="#7EB02E" stroke-width="1.85" stroke-linejoin="round"/>
<path d="M170.52 1381.41L175.52 1392.21L165.52 1392.21Z" fill="#fff" stroke="#7EB02E" stroke-width="1.85" stroke-linejoin="round"/>
<path d="M218.73 1384.04L223.73 1394.84L213.73 1394.84Z" fill="#fff" stroke="#7EB02E" stroke-width="1.85" stroke-linejoin="round"/>
<path d="M266.94 1382.99L271.94 1393.79L261.94 1393.79Z" fill="#fff" stroke="#7EB02E" stroke-width="1.85" stroke-linejoin="round"/>
<path d="M315.15 1383.51L320.15 1394.31L310.15 1394.31Z" fill="#fff" stroke="#7EB02E" stroke-width="1.85" stroke-linejoin="round"/>
<path d="M363.36 1384.56L368.36 1395.36L358.36 1395.36Z" fill="#fff" stroke="#7EB02E" stroke-width="1.85" stroke-linejoin="round"/>
<path d="M411.57 1385.09L416.57 1395.89L406.57 1395.89Z" fill="#fff" stroke="#7EB02E" stroke-width="1.85" stroke-linejoin="round"/>
<path d="M459.78 1386.14L464.78 1396.94L454.78 1396.94Z" fill="#fff" stroke="#7EB02E" stroke-width="1.85" stroke-linejoin="round"/>
<path d="M507.99 1386.14L512.99 1396.94L502.99 1396.94Z" fill="#fff" stroke="#7EB02E" stroke-width="1.85" stroke-linejoin="round"/>
<path d="M556.2 1385.09L561.2 1395.89L551.2 1395.89Z" fill="#fff" stroke="#7EB02E" stroke-width="1.85" stroke-linejoin="round"/>
<polyline points="74.1,1548.19 122.31,1504 170.52,1473.49 218.73,1452.44 266.94,1435.61 315.15,1427.72 363.36,1420.88 411.57,1415.09 459.78,1409.83" fill="none" stroke="#6C46A4" stroke-width="3.6" stroke-linejoin="round" stroke-linecap="round"/>
<ellipse cx="74.1" cy="1548.19" rx="5.3" ry="6.4" fill="#fff" stroke="#6C46A4" stroke-width="1.85"/>
<ellipse cx="122.31" cy="1504" rx="5.3" ry="6.4" fill="#fff" stroke="#6C46A4" stroke-width="1.85"/>
<ellipse cx="170.52" cy="1473.49" rx="5.3" ry="6.4" fill="#fff" stroke="#6C46A4" stroke-width="1.85"/>
<ellipse cx="218.73" cy="1452.44" rx="5.3" ry="6.4" fill="#fff" stroke="#6C46A4" stroke-width="1.85"/>
<ellipse cx="266.94" cy="1435.61" rx="5.3" ry="6.4" fill="#fff" stroke="#6C46A4" stroke-width="1.85"/>
<ellipse cx="315.15" cy="1427.72" rx="5.3" ry="6.4" fill="#fff" stroke="#6C46A4" stroke-width="1.85"/>
<ellipse cx="363.36" cy="1420.88" rx="5.3" ry="6.4" fill="#fff" stroke="#6C46A4" stroke-width="1.85"/>
<ellipse cx="411.57" cy="1415.09" rx="5.3" ry="6.4" fill="#fff" stroke="#6C46A4" stroke-width="1.85"/>
<ellipse cx="459.78" cy="1409.83" rx="5.3" ry="6.4" fill="#fff" stroke="#6C46A4" stroke-width="1.85"/>
<line x1="122.5" y1="1636.3" x2="151.2" y2="1636.3" stroke="#2C6ABC" stroke-width="3.5" stroke-linecap="round"/>
<path d="M136.3 1631.5L140.8 1636.3L136.3 1641.1L131.8 1636.3Z" fill="#fff" stroke="#2C6ABC" stroke-width="1.7" stroke-linejoin="round"/>
<text class="s" y="1641.9"><tspan x="154.24" textLength="31.21" lengthAdjust="spacingAndGlyphs">2017</tspan><tspan class="y" x="185.38" dy="-0.5" textLength="13.82" lengthAdjust="spacingAndGlyphs">年</tspan></text>
<line x1="217.2" y1="1636.3" x2="245.9" y2="1636.3" stroke="#C8272D" stroke-width="3.5" stroke-linecap="round"/>
<rect x="226.1" y="1631.1" width="9.8" height="10.4" rx="0.5" fill="#fff" stroke="#C8272D" stroke-width="1.7"/>
<text class="s" y="1641.9"><tspan x="248.54" textLength="31.21" lengthAdjust="spacingAndGlyphs">2018</tspan><tspan class="y" x="279.43" dy="-0.5" textLength="13.82" lengthAdjust="spacingAndGlyphs">年</tspan></text>
<line x1="310.5" y1="1636.3" x2="339.2" y2="1636.3" stroke="#7EB02E" stroke-width="3.5" stroke-linecap="round"/>
<path d="M324.3 1631.6L328.4 1640.2L320.2 1640.2Z" fill="#fff" stroke="#7EB02E" stroke-width="1.7" stroke-linejoin="round"/>
<text class="s" y="1641.9"><tspan x="342.54" textLength="31.21" lengthAdjust="spacingAndGlyphs">2019</tspan><tspan class="y" x="373.43" dy="-0.5" textLength="13.82" lengthAdjust="spacingAndGlyphs">年</tspan></text>
<line x1="405.5" y1="1636.3" x2="434.2" y2="1636.3" stroke="#6C46A4" stroke-width="3.5" stroke-linecap="round"/>
<ellipse cx="419.3" cy="1636.3" rx="4.8" ry="5.6" fill="#fff" stroke="#6C46A4" stroke-width="1.7"/>
<text class="s" y="1641.9"><tspan x="436.54" textLength="31.21" lengthAdjust="spacingAndGlyphs">2020</tspan><tspan class="y" x="467.43" dy="-0.5" textLength="13.82" lengthAdjust="spacingAndGlyphs">年</tspan></text>
</g>
</svg>
</body>
</html>
